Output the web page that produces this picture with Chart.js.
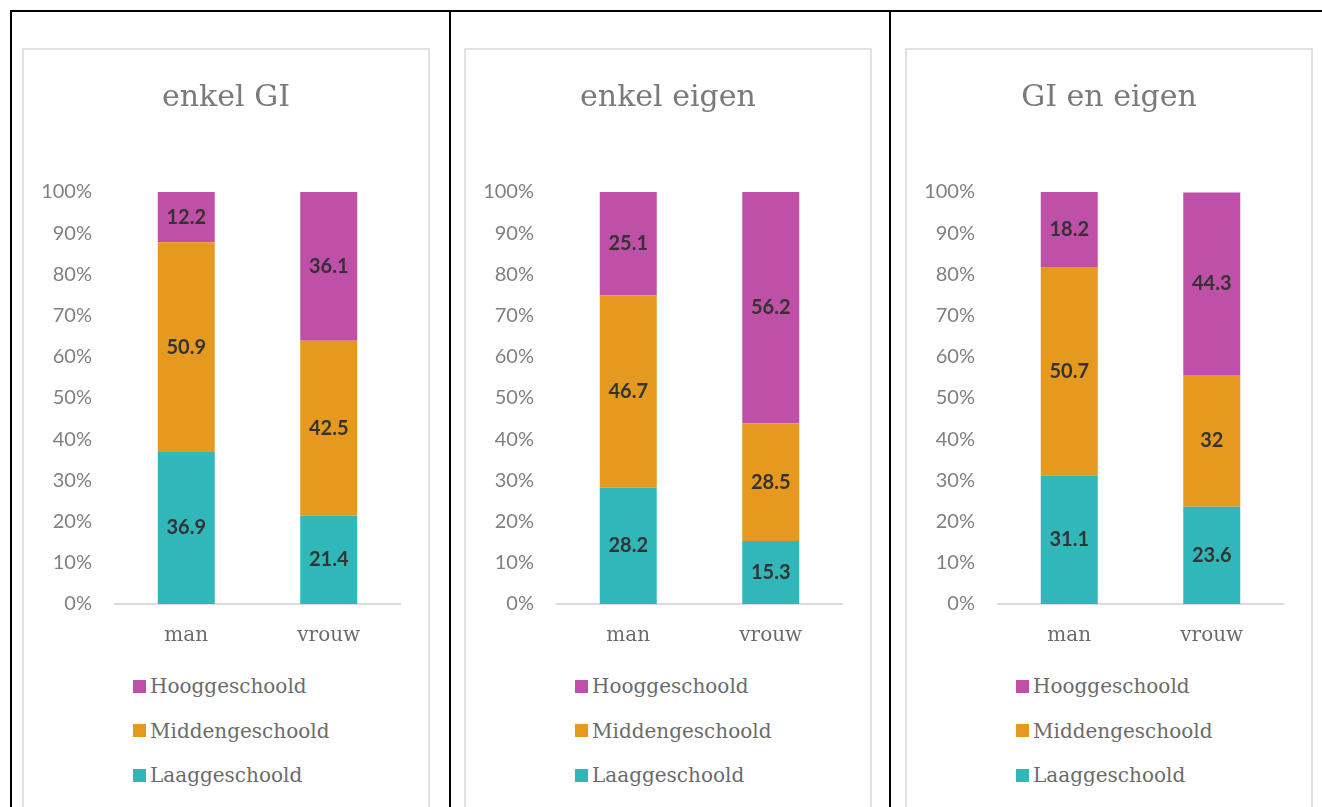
<!DOCTYPE html>
<html>
<head>
<meta charset="utf-8">
<script src="https://cdn.jsdelivr.net/npm/chart.js@4.4.1/dist/chart.umd.min.js"></script>
<style>
  body { margin: 0; background: #fff; width: 1322px; height: 807px; overflow: hidden; position: relative; }
  .rule-h { position: absolute; left: 10px; top: 10px; width: 1312px; height: 2px; background: #000; }
  .rule-v { position: absolute; top: 10px; width: 2px; height: 797px; background: #000; }
  .box { position: absolute; top: 48px; width: 404px; height: 770px; border: 2px solid #e2e2e2; background: #fff; }
  .box canvas { position: absolute; left: 0; top: 0; }
  .legend { position: absolute; left: 109px; top: 614px; margin: 0; padding: 0; list-style: none;
            font-family: "DejaVu Serif", serif; font-size: 20px; color: #6b6b6b; }
  .legend li { height: 44.5px; display: flex; align-items: center; }
  .legend span { display: inline-block; width: 13px; height: 13px; margin-right: 4px; }
</style>
</head>
<body>
<div class="rule-h"></div>
<div class="rule-v" style="left:10px"></div>
<div class="rule-v" style="left:449px"></div>
<div class="rule-v" style="left:889px"></div>

<div class="box" style="left:22px"><canvas id="c0" width="404" height="610"></canvas><ul class="legend" id="l0"></ul></div>
<div class="box" style="left:464px"><canvas id="c1" width="404" height="610"></canvas><ul class="legend" id="l1"></ul></div>
<div class="box" style="left:905px"><canvas id="c2" width="404" height="610"></canvas><ul class="legend" id="l2"></ul></div>

<script>
// shares per education level (%), per panel: [man, vrouw]
const categories = ['man', 'vrouw'];
const titles = ['enkel GI', 'enkel eigen', 'GI en eigen'];
const levels = ['Laaggeschoold', 'Middengeschoold', 'Hooggeschoold'];
const colors = ['#31b7b9', '#e59a1f', '#bf50a7'];

const laagGI = [36.9, 21.4];
const middenGI = [50.9, 42.5];
const hoogGI = [12.2, 36.1];

const laagEigen = [28.2, 15.3];
const middenEigen = [46.7, 28.5];
const hoogEigen = [25.1, 56.2];

const laagBeide = [31.1, 23.6];
const middenBeide = [50.7, 32];
const hoogBeide = [18.2, 44.3];

const yTicks = [0, 10, 20, 30, 40, 50, 60, 70, 80, 90, 100];

const panels = [
  [laagGI, middenGI, hoogGI],
  [laagEigen, middenEigen, hoogEigen],
  [laagBeide, middenBeide, hoogBeide]
];

// value labels in the middle of each segment
const segmentLabels = {
  id: 'segmentLabels',
  afterDatasetsDraw(chart) {
    const ctx = chart.ctx;
    ctx.save();
    ctx.font = 'bold 20px Lato';
    ctx.fillStyle = '#333333';
    ctx.textAlign = 'center';
    ctx.textBaseline = 'middle';
    chart.data.datasets.forEach((ds, i) => {
      chart.getDatasetMeta(i).data.forEach((bar, j) => {
        ctx.fillText(String(ds.data[j]), bar.x, (bar.y + bar.base) / 2);
      });
    });
    ctx.restore();
  }
};

panels.forEach((series, p) => {
  const chart = new Chart(document.getElementById('c' + p), {
    type: 'bar',
    data: {
      labels: categories,
      datasets: series.map((values, i) => ({
        label: levels[i],
        data: values,
        backgroundColor: colors[i],
        barPercentage: 0.4,
        categoryPercentage: 1
      }))
    },
    options: {
      responsive: false,
      animation: false,
      layout: { padding: 0 },
      plugins: {
        legend: { display: false },
        tooltip: { enabled: false },
        title: {
          display: true,
          text: titles[p],
          color: '#7a7a7a',
          font: { family: 'DejaVu Serif', size: 30, weight: 'normal', lineHeight: 1.2 },
          padding: { top: 30, bottom: 76 }
        }
      },
      scales: {
        x: {
          stacked: true,
          grid: { display: false, drawTicks: false },
          border: { display: true, color: '#dcdcdc', width: 2 },
          ticks: { color: '#6b6b6b', padding: 20, font: { family: 'DejaVu Serif', size: 20 } },
          afterFit: (scale) => { scale.height = 56; }
        },
        y: {
          stacked: true,
          min: 0,
          max: 100,
          afterBuildTicks: (scale) => { scale.ticks = yTicks.map(v => ({ value: v })); },
          grid: { display: false, drawTicks: false },
          border: { display: false },
          ticks: {
            color: '#808080',
            padding: 23,
            font: { family: 'Lato', size: 20 },
            callback: (v) => v + '%'
          },
          afterFit: (scale) => { scale.width = 91; }
        },
        // empty margin on the right of the plot
        yRight: {
          position: 'right',
          grid: { display: false, drawTicks: false },
          border: { display: false },
          ticks: { display: false },
          afterFit: (scale) => { scale.width = 28; }
        }
      }
    },
    plugins: [segmentLabels]
  });

  // legend list, top level first
  const ul = document.getElementById('l' + p);
  chart.data.datasets.slice().reverse().forEach((ds) => {
    const li = document.createElement('li');
    const sw = document.createElement('span');
    sw.style.background = ds.backgroundColor;
    li.appendChild(sw);
    li.appendChild(document.createTextNode(ds.label));
    ul.appendChild(li);
  });
});
</script>
</body>
</html>
